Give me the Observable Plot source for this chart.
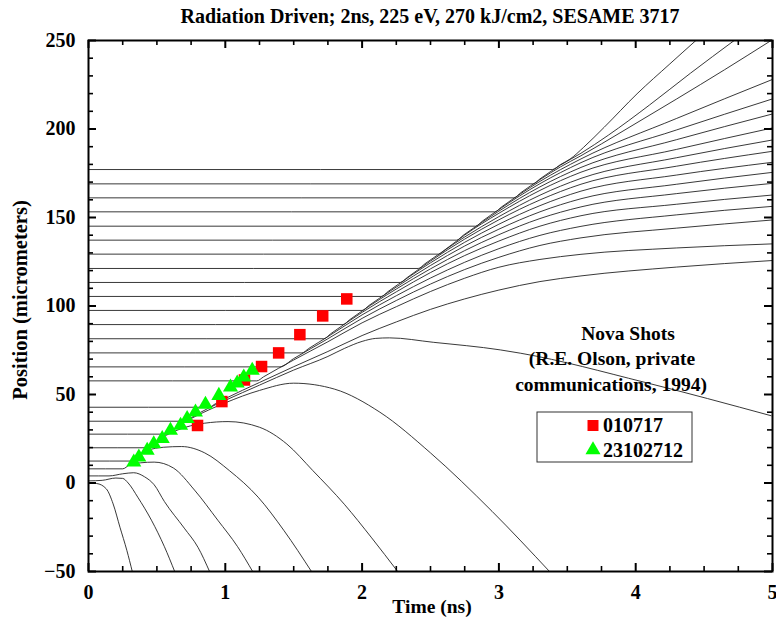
<!DOCTYPE html>
<html><head><meta charset="utf-8">
<script src="https://cdn.jsdelivr.net/npm/d3@7"></script>
<script src="https://cdn.jsdelivr.net/npm/@observablehq/plot@0.6"></script>
<style>body{margin:0;background:#fff}</style>
</head><body><div id="chart"></div>
<script>
// ---- tick values ----
const tickX = [0, 1, 2, 3, 4, 5];
const tickXMinor = [0.25,0.5,0.75,1.25,1.5,1.75,2.25,2.5,2.75,3.25,3.5,3.75,4.25,4.5,4.75];
const tickY = [-50, 0, 50, 100, 150, 200, 250];
const tickYMinor = [-40,-30,-20,-10,10,20,30,40,60,70,80,90,110,120,130,140,160,170,180,190,210,220,230,240];

// ---- Nova shot data (time ns, position micrometers) ----
const shot010717 = [[0.797,32.5],[0.975,46],[1.14,58.2],[1.265,65.8],[1.39,73.5],[1.545,83.8],[1.712,94.4],[1.888,104]];
const shot23102712 = [[0.331,11.8],[0.368,14.6],[0.429,18.4],[0.477,22.1],[0.539,25],[0.599,29.7],[0.673,32.5],[0.721,36.3],[0.782,40],[0.855,44.4],[0.953,49.4],[1.038,54.1],[1.087,56.4],[1.135,59.8],[1.197,63.6]];

// ---- zone boundary trajectories (time ns, position micrometers) ----
const zoneF1 = [[0,0],[0.06,-0.3],[0.13,-3.3],[0.18,-11.8],[0.23,-25],[0.28,-38],[0.32,-50]];
const zoneF2 = [[0,1.2],[0.1,1.5],[0.2,2.8],[0.25,2.6],[0.29,0],[0.36,-8],[0.46,-21],[0.555,-36],[0.63,-50]];
const zoneF3 = [[0,4],[0.15,4],[0.25,5.2],[0.33,5.8],[0.41,3.5],[0.48,-1],[0.555,-10.5],[0.70,-25.5],[0.80,-36.3],[0.885,-50]];
const zoneF4 = [[0,8],[0.25,8],[0.3,10.2],[0.38,11.4],[0.48,11.8],[0.62,8.5],[0.775,-4],[0.945,-21],[1.09,-36],[1.2,-50]];
const zoneF5 = [[0,12.4],[0.31,12.4],[0.36,15],[0.43,18.3],[0.55,20.2],[0.68,20.6],[0.85,17],[1.03,7],[1.24,-8],[1.43,-27],[1.63,-50]];
const zoneF6 = [[0,19.9],[0.43,19.9],[0.48,22.5],[0.57,27],[0.71,31.5],[0.85,33.8],[1.02,34.7],[1.25,31.5],[1.45,22],[1.64,7],[1.87,-12],[2.07,-31],[2.26,-50]];
const zoneF7 = [[0,27.6],[0.57,27.6],[0.62,30],[0.71,34.6],[0.88,41.3],[1.0,45.3],[1.25,52.3],[1.5,56.4],[1.8,53],[2.13,40],[2.5,17],[2.95,-16],[3.37,-50]];
const zoneF8 = [[0,34.9],[0.71,34.9],[0.76,37.3],[0.88,42.4],[1.0,46.7],[1.25,55.3],[1.5,63.8],[1.75,71.5],[1.87,76],[2.0,80],[2.1,81.7],[2.2,82],[2.52,79.5],[3.01,75.2],[3.16,73.3],[4.06,57],[4.99,38]];
const zoneC1 = [[0,42.8],[0.88,42.8],[0.93,44.9],[1.0,47.7],[1.25,56.8],[1.5,65.7],[1.75,74.3],[2.0,83.3],[2.25,91],[2.5,98.1],[2.75,104],[3.0,109],[3.3,113.8],[3.6,117],[4.3,122],[5,125.7]];
const zoneC2 = [[0,57.7],[1.23,57.7],[1.28,60],[1.5,69.5],[1.75,79.8],[2.0,90.5],[2.25,99.6],[2.5,108.2],[2.75,115.7],[3.0,121.9],[3.3,126.3],[3.6,129.2],[4.3,132.8],[5,135.1]];
const zoneC3 = [[0,65.6],[1.4,65.6],[1.5,70.3],[1.75,81.5],[2.0,93],[2.25,103.1],[2.5,112.4],[2.75,120.6],[3.0,127.5],[3.3,134.2],[3.6,138.5],[4.3,144],[5,148.6]];
const zoneC4 = [[0,73.5],[1.56,73.5],[1.61,76],[1.75,82.7],[2.0,95],[2.25,105.8],[2.5,115.8],[2.75,124.7],[3.0,132.4],[3.3,139.9],[3.6,145],[4.3,151.5],[5,156.3]];
const zoneC5 = [[0,81.5],[1.72,81.5],[1.77,84.3],[2.0,96.4],[2.25,108],[2.5,118.9],[2.75,128.5],[3.0,136.7],[3.3,145.1],[3.6,151],[4.3,157.5],[5,162.7]];
const zoneC6 = [[0,89.5],[1.86,89.5],[1.91,92.3],[2.0,97.2],[2.25,109.6],[2.5,121],[2.75,131.3],[3.0,140.3],[3.3,149.4],[3.6,156],[4.3,163.5],[5,169.3]];
const zoneC7 = [[0,97.5],[2.0,97.5],[2.05,100.3],[2.25,110.7],[2.5,122.9],[2.75,133.9],[3.0,143.4],[3.3,153.2],[3.6,160.6],[4.3,168.8],[5,175.5]];
const zoneC8 = [[0,105.4],[2.14,105.4],[2.19,108.2],[2.5,124.4],[2.75,136],[3.0,146.2],[3.3,156.7],[3.6,164.9],[4.3,174],[5,181.2]];
const zoneC9 = [[0,113.3],[2.28,113.3],[2.33,116.1],[2.5,125.4],[2.75,137.8],[3.0,148.7],[3.3,159.9],[3.6,168.8],[4.3,179],[5,187.4]];
const zoneC10 = [[0,121.2],[2.41,121.2],[2.46,123.9],[2.75,139],[3.0,150.5],[3.3,162.6],[3.6,172.1],[4.3,183.8],[5,193.8]];
const zoneC11 = [[0,129.3],[2.56,129.3],[2.61,132],[2.75,140.1],[3.0,152.4],[3.3,165.3],[3.6,175.6],[4.3,188.5],[5,200.6]];
const zoneC12 = [[0,137.2],[2.69,137.2],[2.74,140],[3.0,153.6],[3.3,167.3],[3.6,178.3],[4.3,194],[5,208.5]];
const zoneC13 = [[0,145.1],[2.83,145.1],[2.88,148],[3.0,154.5],[3.3,169.1],[3.6,181],[4.3,199.5],[5,217]];
const zoneC14 = [[0,153.2],[2.97,153.2],[3.02,156],[3.3,170.4],[3.6,183.1],[4.3,206],[5,228]];
const zoneC15 = [[0,161.1],[3.11,161.1],[3.16,164],[3.3,171.4],[3.45,178.6],[3.6,184.9],[3.9,198.5],[4.3,217],[4.65,233.5],[4.99,250]];
const zoneC16 = [[0,169],[3.25,169],[3.3,171.8],[3.45,179.6],[3.6,186.3],[3.8,196.5],[4.1,213.5],[4.4,231.5],[4.72,250]];
const zoneC17 = [[0,177.1],[3.39,177.1],[3.45,179.9],[3.52,183],[3.62,189.7],[3.77,201],[4.01,219.9],[4.25,236.8],[4.44,250]];

const zoneLines = [zoneF1,zoneF2,zoneF3,zoneF4,zoneF5,zoneF6,zoneF7,zoneF8,
  zoneC1,zoneC2,zoneC3,zoneC4,zoneC5,zoneC6,zoneC7,zoneC8,zoneC9,zoneC10,zoneC11,zoneC12,zoneC13,zoneC14,zoneC15,zoneC16,zoneC17];
const lineData = zoneLines.flatMap((pts, i) => pts.map(([t, v]) => ({t, v, id: i})));

// ---- layout ----
const W = 776, H = 623, mL = 88, mR = 4, mT = 40, mB = 52;
const fw = W - mL - mR, fh = H - mT - mB;
const FONT = "'Liberation Serif', 'Times New Roman', Times, serif";
const fmt = d => d < 0 ? "\u2212" + Math.abs(d) : String(d);

const plot = Plot.plot({
  width: W, height: H,
  marginLeft: mL, marginRight: mR, marginTop: mT, marginBottom: mB,
  x: {domain: [0, 5], axis: null},
  y: {domain: [-50, 250], axis: null},
  style: {fontFamily: FONT, fontWeight: "bold", background: "white", color: "black"},
  marks: [
    Plot.line(lineData, {x: "t", y: "v", z: "id", curve: "monotone-x", stroke: "#222", strokeWidth: 0.9, clip: true}),
    Plot.dot(shot010717, {x: d => d[0], y: d => d[1], symbol: "square", r: 6.5, fill: "#ff0000"}),
    Plot.dot(shot23102712, {x: d => d[0], y: d => d[1], symbol: "triangle", r: 5.6, fill: "#00ff00"}),
    // inward ticks on all four sides
    Plot.ruleX(tickX, {x: d => d, insetTop: fh - 8, strokeWidth: 2}),
    Plot.ruleX(tickX, {x: d => d, insetBottom: fh - 8, strokeWidth: 2}),
    Plot.ruleX(tickXMinor, {x: d => d, insetTop: fh - 5, strokeWidth: 1.6}),
    Plot.ruleX(tickXMinor, {x: d => d, insetBottom: fh - 5, strokeWidth: 1.6}),
    Plot.ruleY(tickY, {y: d => d, insetRight: fw - 8, strokeWidth: 2}),
    Plot.ruleY(tickY, {y: d => d, insetLeft: fw - 8, strokeWidth: 2}),
    Plot.ruleY(tickYMinor, {y: d => d, insetRight: fw - 5, strokeWidth: 1.6}),
    Plot.ruleY(tickYMinor, {y: d => d, insetLeft: fw - 5, strokeWidth: 1.6}),
    Plot.frame({stroke: "black", strokeWidth: 2}),
    Plot.text(tickX, {x: d => d, y: -50, dy: 21, text: d => fmt(d), fontSize: 20, fontWeight: "bold", fontFamily: FONT}),
    Plot.text(tickY, {x: 0, y: d => d, dx: -13, textAnchor: "end", text: d => fmt(d), fontSize: 20, fontWeight: "bold", fontFamily: FONT})
  ]
});

const svg = d3.select(plot);
function label(x, y, txt, size, anchor = "middle", rotate = 0) {
  return svg.append("text")
    .attr("x", 0).attr("y", 0)
    .attr("transform", `translate(${x},${y})` + (rotate ? ` rotate(${rotate})` : ""))
    .attr("text-anchor", anchor)
    .attr("font-family", FONT).attr("font-weight", "bold")
    .attr("font-size", size).attr("fill", "black")
    .text(txt);
}
label(430, 23, "Radiation Driven; 2ns, 225 eV, 270 kJ/cm2, SESAME 3717", 20);
label(432, 613, "Time (ns)", 19.5);
label(27, 300, "Position (micrometers)", 20.5, "middle", -90);
label(628, 340, "Nova Shots", 19.5);
label(612, 365, "(R.E. Olson, private", 19.5);
label(611, 391, "communications, 1994)", 19.5);

// legend
const lg = svg.append("g");
lg.append("rect").attr("x", 537).attr("y", 412).attr("width", 155).attr("height", 50)
  .attr("fill", "white").attr("stroke", "#333").attr("stroke-width", 1);
lg.append("path").attr("d", d3.symbol(d3.symbolSquare, Math.PI * 6.2 * 6.2)())
  .attr("transform", "translate(593,425.5)").attr("fill", "#ff0000");
lg.append("path").attr("d", d3.symbol(d3.symbolTriangle, Math.PI * 5.6 * 5.6)())
  .attr("transform", "translate(593,450)").attr("fill", "#00ff00");
label(603, 432, "010717", 20, "start");
label(603, 457, "23102712", 20, "start");

document.getElementById("chart").appendChild(plot);
</script>
</body></html>
